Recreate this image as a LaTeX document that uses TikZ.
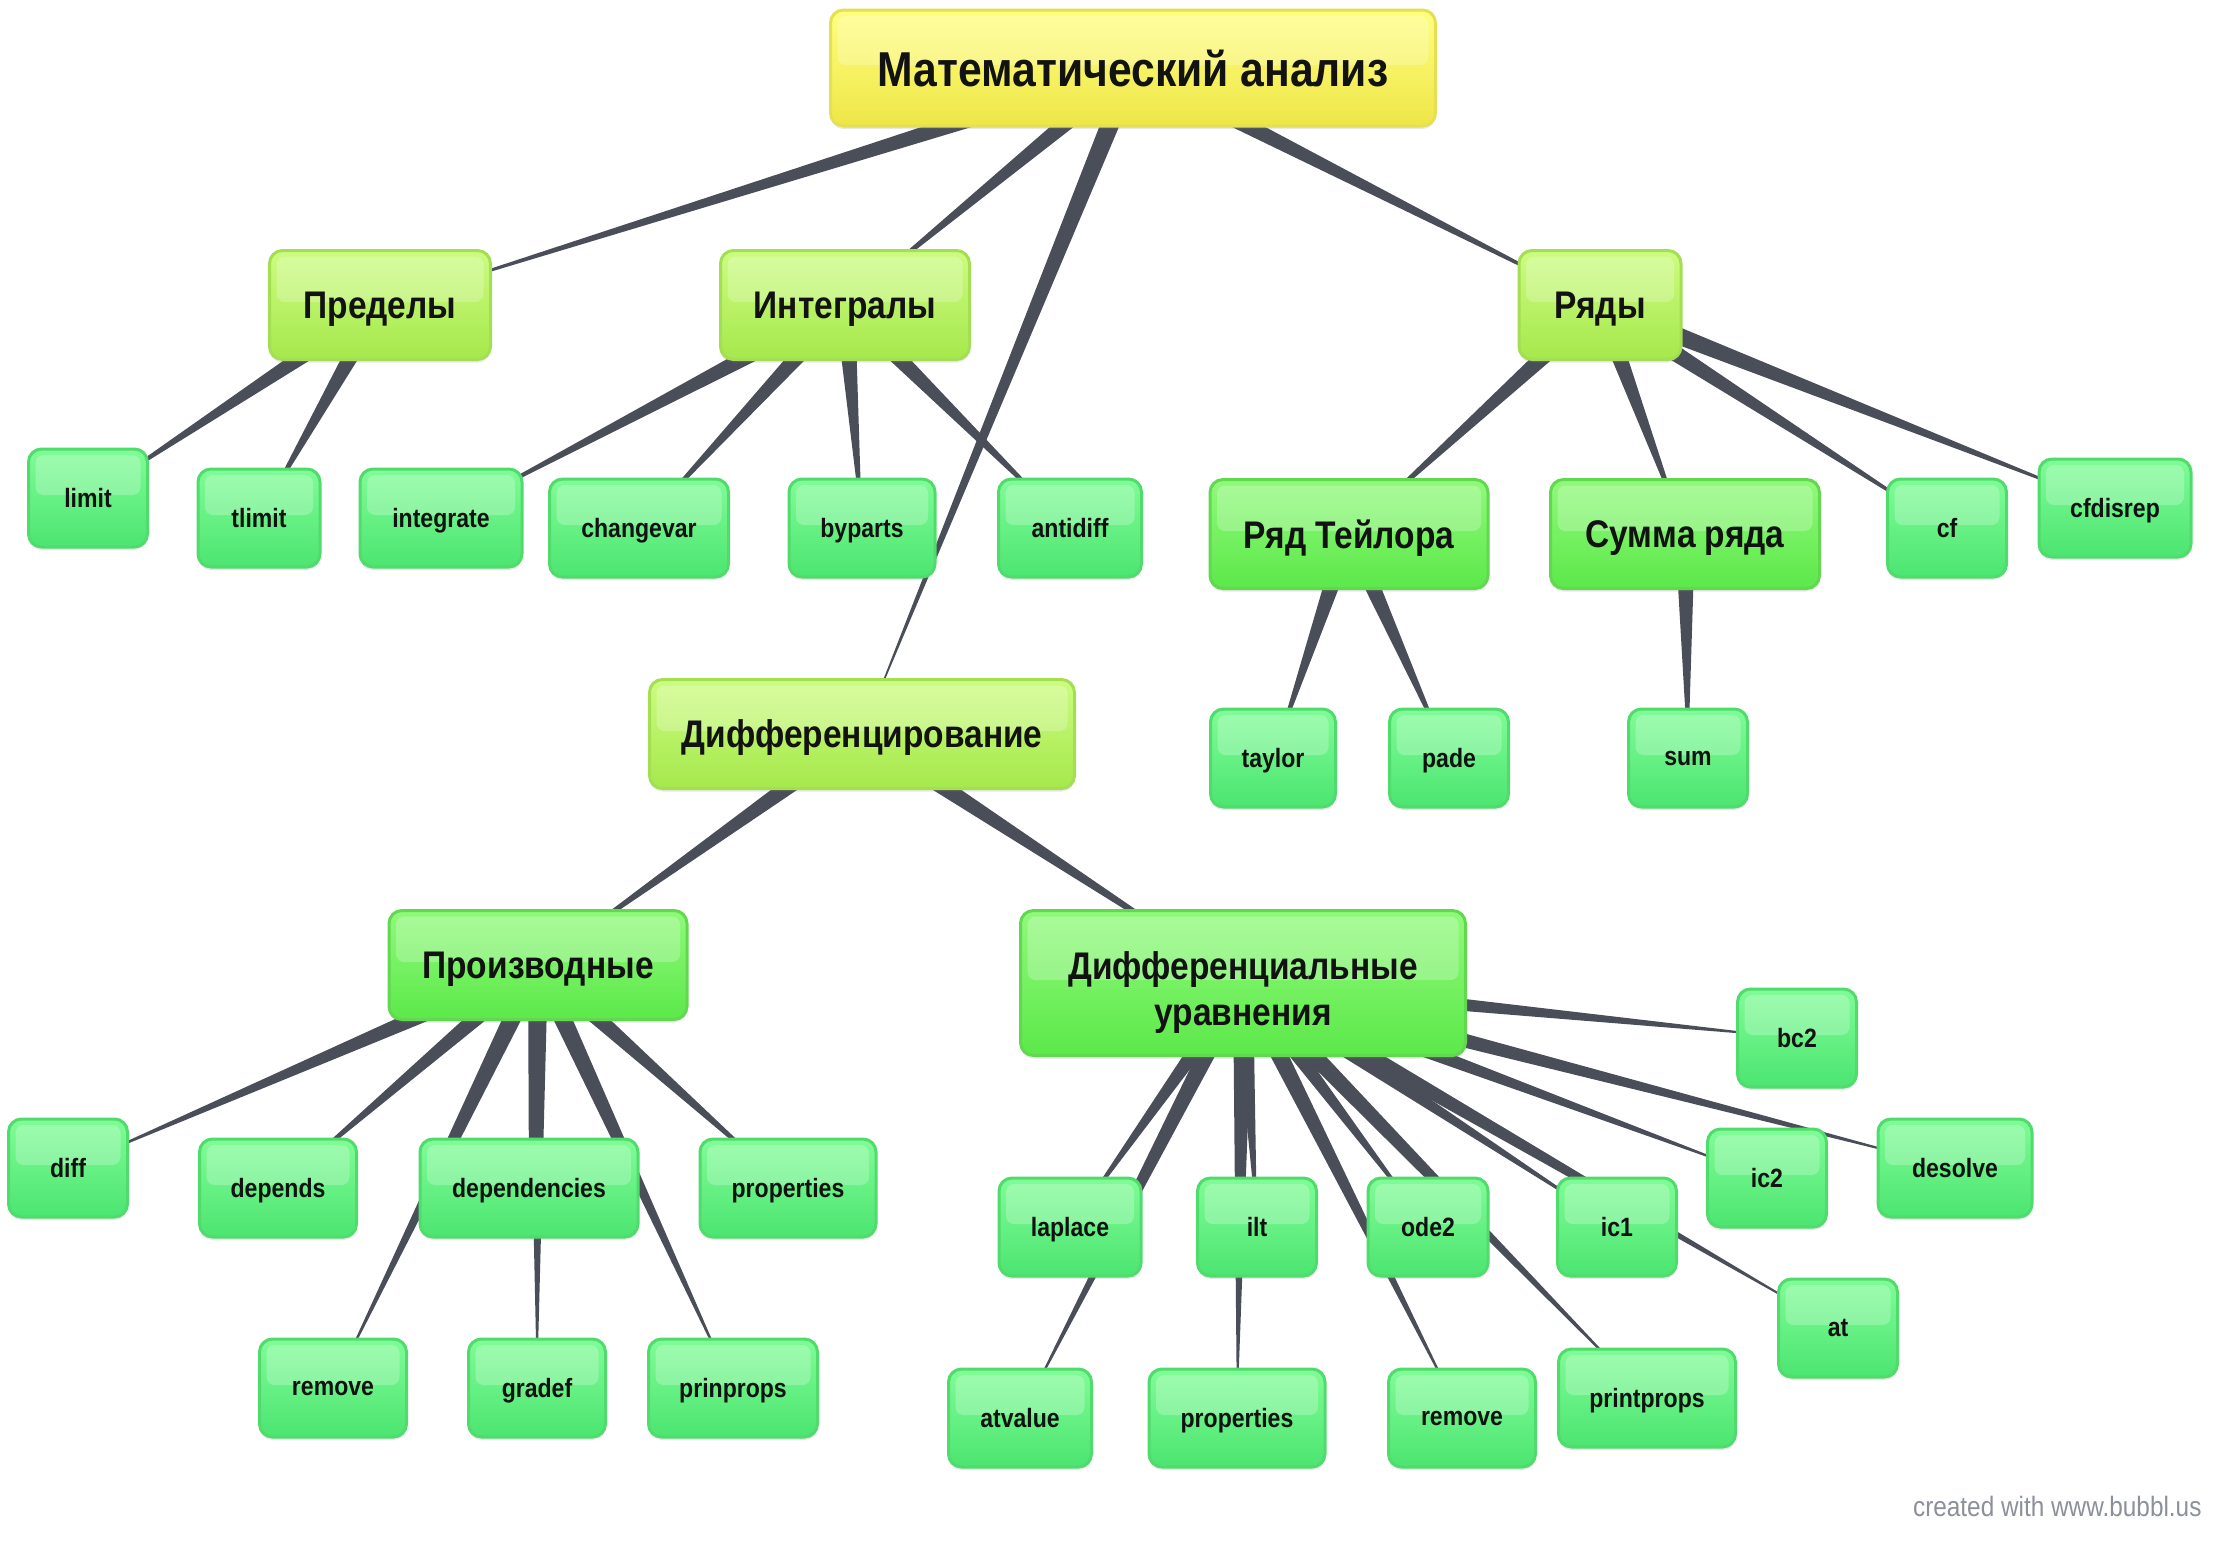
\documentclass[tikz,border=0pt]{standalone}
\usepackage{fontspec}
\setmainfont{Liberation Sans}[FakeStretch=0.87]
\usepackage{tikz}
\usetikzlibrary{calc,backgrounds,shadows}

\definecolor{liniya}{HTML}{4A4E59}
\definecolor{pidpys}{HTML}{8C9099}

% Клин від центру батьківського вузла до центру дочірнього
\newcommand{\klyn}[2]{%
  \fill[liniya] ($(#1.center)!10pt!90:(#2.center)$) -- ($(#1.center)!10pt!-90:(#2.center)$) -- (#2.center) -- cycle;}

\begin{document}
\begin{tikzpicture}[x=1pt,y=-1pt,
        vuzol/.style={rounded corners=13pt, line width=3pt, inner sep=0pt, align=center, text=black!93,
            drop shadow={opacity=0.18, shadow xshift=0pt, shadow yshift=-3pt},
            path picture={\fill[white,opacity=0.24,rounded corners=8pt]
                ([shift={(7pt,-6pt)}]path picture bounding box.north west) rectangle
                ([shift={(-7pt,3pt)}]path picture bounding box.east);}},
        korin/.style={vuzol, draw={rgb,255:red,228;green,224;blue,82}, top color={rgb,255:red,255;green,255;blue,128},
            bottom color={rgb,255:red,238;green,230;blue,71}, minimum height=116pt, text depth=0pt,
            font=\fontsize{49}{56}\selectfont\bfseries},
        rozdil/.style={vuzol, draw={rgb,255:red,164;green,222;blue,82}, top color={rgb,255:red,204;green,252;blue,128},
            bottom color={rgb,255:red,166;green,232;blue,76}, minimum height=109pt, text depth=0pt,
            font=\fontsize{38.5}{46}\selectfont\bfseries},
        pidrozdil/.style={vuzol, draw={rgb,255:red,98;green,216;blue,80}, top color={rgb,255:red,144;green,250;blue,122},
            bottom color={rgb,255:red,92;green,232;blue,74}, minimum height=109pt,
            font=\fontsize{38.5}{46}\selectfont\bfseries},
        lyst/.style={vuzol, draw={rgb,255:red,80;green,220;blue,108}, top color={rgb,255:red,128;green,252;blue,150},
            bottom color={rgb,255:red,76;green,229;blue,113}, minimum height=98pt, text depth=0pt,
            font=\fontsize{26.5}{30}\selectfont\bfseries}]

        \useasboundingbox (0,0) rectangle (2222,1540);

        % Корінь і розділи
        \node[korin, minimum width=605pt] (M) at (1133,68) {Математический анализ};
        \node[rozdil, minimum width=221pt] (pred) at (380,305) {Пределы};
        \node[rozdil, minimum width=249pt] (integ) at (845,305) {Интегралы};
        \node[rozdil, minimum width=162pt] (ryady) at (1600,305) {Ряды};
        \node[rozdil, minimum width=425pt] (difr) at (862,734) {Дифференцирование};

        \node[pidrozdil, minimum width=278pt, text depth=0pt] (teilor) at (1349,534) {Ряд Тейлора};
        \node[pidrozdil, minimum width=269pt, text depth=0pt] (summa) at (1685,534) {Сумма ряда};
        \node[pidrozdil, minimum width=298pt, text depth=0pt] (proizv) at (538,965) {Производные};
        \node[pidrozdil, minimum width=445pt, minimum height=145pt] (du) at (1243,983) {\rule{0pt}{46pt}Дифференциальные\\уравнения};

        % Листки
        \node[lyst, minimum width=119pt] (limit) at (88,498) {limit};
        \node[lyst, minimum width=122pt] (tlimit) at (259,518) {tlimit};
        \node[lyst, minimum width=162pt] (integrate) at (441,518) {integrate};
        \node[lyst, minimum width=179pt] (changevar) at (639,528) {changevar};
        \node[lyst, minimum width=146pt] (byparts) at (862,528) {byparts};
        \node[lyst, minimum width=143pt] (antidiff) at (1070,528) {antidiff};
        \node[lyst, minimum width=119pt] (cf) at (1947,528) {cf};
        \node[lyst, minimum width=152pt] (cfdisrep) at (2115,508) {cfdisrep};
        \node[lyst, minimum width=125pt] (taylor) at (1273,758) {taylor};
        \node[lyst, minimum width=119pt] (pade) at (1449,758) {pade};
        \node[lyst, minimum width=119pt] (sum) at (1688,758) {sum};

        \node[lyst, minimum width=119pt] (diff) at (68,1168) {diff};
        \node[lyst, minimum width=157pt] (depends) at (278,1188) {depends};
        \node[lyst, minimum width=218pt] (dependencies) at (529,1188) {dependencies};
        \node[lyst, minimum width=176pt] (propA) at (788,1188) {properties};
        \node[lyst, minimum width=147pt] (removeA) at (333,1388) {remove};
        \node[lyst, minimum width=137pt] (gradef) at (537,1388) {gradef};
        \node[lyst, minimum width=169pt] (prinprops) at (733,1388) {prinprops};

        \node[lyst, minimum width=119pt] (bc2) at (1797,1038) {bc2};
        \node[lyst, minimum width=154pt] (desolve) at (1955,1168) {desolve};
        \node[lyst, minimum width=119pt] (ic2) at (1767,1178) {ic2};
        \node[lyst, minimum width=119pt] (ic1) at (1617,1227) {ic1};
        \node[lyst, minimum width=120pt] (ode2) at (1428,1227) {ode2};
        \node[lyst, minimum width=119pt] (ilt) at (1257,1227) {ilt};
        \node[lyst, minimum width=142pt] (laplace) at (1070,1227) {laplace};
        \node[lyst, minimum width=119pt] (at) at (1838,1328) {at};
        \node[lyst, minimum width=143pt] (atvalue) at (1020,1418) {atvalue};
        \node[lyst, minimum width=176pt] (propB) at (1237,1418) {properties};
        \node[lyst, minimum width=147pt] (removeB) at (1462,1418) {remove};
        \node[lyst, minimum width=177pt] (printprops) at (1647,1398) {printprops};

        \node[anchor=east, text=pidpys, font=\fontsize{28}{32}\selectfont] (znak) at (2205,1506) {created with www.bubbl.us};

        % Зв'язки (під вузлами)
        \begin{scope}[on background layer]
            \fill[white] (0,0) rectangle (2222,1540);
            \klyn{M}{pred} \klyn{M}{integ} \klyn{M}{difr} \klyn{M}{ryady}
            \klyn{pred}{limit} \klyn{pred}{tlimit}
            \klyn{integ}{integrate} \klyn{integ}{changevar} \klyn{integ}{byparts} \klyn{integ}{antidiff}
            \klyn{ryady}{teilor} \klyn{ryady}{summa} \klyn{ryady}{cf} \klyn{ryady}{cfdisrep}
            \klyn{teilor}{taylor} \klyn{teilor}{pade} \klyn{summa}{sum}
            \klyn{difr}{proizv} \klyn{difr}{du}
            \klyn{proizv}{diff} \klyn{proizv}{depends} \klyn{proizv}{dependencies} \klyn{proizv}{propA}
            \klyn{proizv}{removeA} \klyn{proizv}{gradef} \klyn{proizv}{prinprops}
            \klyn{du}{laplace} \klyn{du}{ilt} \klyn{du}{ode2} \klyn{du}{ic1} \klyn{du}{ic2} \klyn{du}{bc2}
            \klyn{du}{desolve} \klyn{du}{atvalue} \klyn{du}{propB} \klyn{du}{removeB} \klyn{du}{printprops} \klyn{du}{at}
        \end{scope}
    \end{tikzpicture}
\end{document}
